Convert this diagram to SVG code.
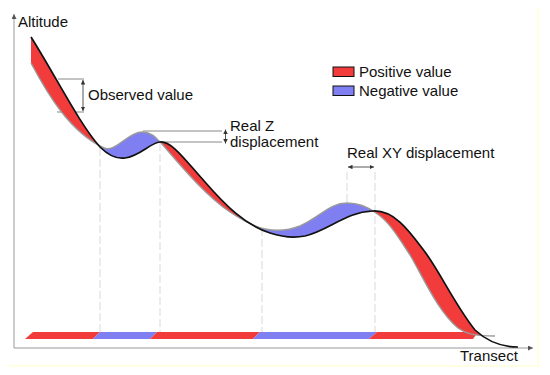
<svg xmlns="http://www.w3.org/2000/svg" width="550" height="375" viewBox="0 0 550 375">
  <style>
    text { font-family: "Liberation Sans", Arial, sans-serif; font-size: 15px; fill: #111; }
    .axis { stroke: #999; stroke-width: 1; fill: none; }
    .dash { stroke: #cfcfcf; stroke-width: 0.8; stroke-dasharray: 8 3; fill: none; }
    .guide { stroke: #888; stroke-width: 1; fill: none; }
    .dim { stroke: #444; stroke-width: 0.9; fill: none; }
    .red { fill: #f23c3c; }
    .blue { fill: #7f7ff2; }
  </style>
  <defs>
    <marker id="ah" viewBox="0 0 6 6" refX="6" refY="3" markerWidth="5" markerHeight="5" orient="auto-start-reverse">
      <path d="M0,0 L6,3 L0,6 Z" fill="#333"/>
    </marker>
    <marker id="axh" viewBox="0 0 6 6" refX="6" refY="3" markerWidth="5" markerHeight="5" orient="auto">
      <path d="M0,0 L6,3 L0,6 Z" fill="#555"/>
    </marker>
    <clipPath id="cUnderBlack">
      <path d="M31,37 C55,75 80,125 100,147 C110,157 118,159 125,158 C140,156 150,143 160,142 C172,141 185,160 205,182 C225,205 245,225 270,233 C285,238 295,238 305,236 C330,230 345,212 373,211 C395,210 410,232 425,252 C440,272 455,305 475,330 C490,344 505,347 518,347 L600,347 L600,400 L0,400 L0,37 Z"/>
    </clipPath>
    <clipPath id="cOverBlack">
      <path d="M31,37 C55,75 80,125 100,147 C110,157 118,159 125,158 C140,156 150,143 160,142 C172,141 185,160 205,182 C225,205 245,225 270,233 C285,238 295,238 305,236 C330,230 345,212 373,211 C395,210 410,232 425,252 C440,272 455,305 475,330 C490,344 505,347 518,347 L600,347 L600,-10 L0,-10 L0,37 Z"/>
    </clipPath>
    <clipPath id="cUnderGray">
      <path d="M31,63 C48,95 70,132 104,148 C115,153 128,132 142,132 C152,132 156,138 162,144 C180,165 205,195 230,212 C245,222 255,227 265,229 C280,232 290,230 300,226 C320,217 330,203 347,203 C360,203 368,207 376,213 C390,222 400,240 410,255 C422,275 438,312 458,328 C468,335 478,336 495,336 L600,336 L600,400 L0,400 L0,63 Z"/>
    </clipPath>
    <clipPath id="cOverGray">
      <path d="M31,63 C48,95 70,132 104,148 C115,153 128,132 142,132 C152,132 156,138 162,144 C180,165 205,195 230,212 C245,222 255,227 265,229 C280,232 290,230 300,226 C320,217 330,203 347,203 C360,203 368,207 376,213 C390,222 400,240 410,255 C422,275 438,312 458,328 C468,335 478,336 495,336 L600,336 L600,-10 L0,-10 L0,63 Z"/>
    </clipPath>
  </defs>

  <rect x="0" y="0" width="550" height="375" fill="#ffffff"/>

  <!-- faint frame -->
  <g id="frame" stroke="#ffffc4" stroke-width="1.2" fill="none">
    <line x1="538" y1="8" x2="538" y2="366"/>
    <line x1="7" y1="366" x2="538" y2="366"/>
  </g>

  <!-- axes -->
  <g id="axes">
    <line class="axis" x1="14" y1="348" x2="14" y2="14" marker-end="url(#axh)"/>
    <line class="axis" x1="14" y1="348" x2="533" y2="348" marker-end="url(#axh)"/>
    <text x="18" y="27">Altitude</text>
    <text x="460" y="361">Transect</text>
  </g>

  <!-- band along transect -->
  <g id="band">
    <polygon class="red" points="33,332 100,332 93,339 25,339"/>
    <polygon class="blue" points="100,332 157,332 150,339 93,339"/>
    <polygon class="red" points="157,332 260,332 253,339 150,339"/>
    <polygon class="blue" points="260,332 377,332 369,339 253,339"/>
    <polygon class="red" points="377,332 478,332 473,339 369,339"/>
  </g>

  <!-- connectors / guide lines -->
  <g id="connectors">
    <line class="dash" x1="100" y1="148" x2="100" y2="332"/>
    <line class="dash" x1="160" y1="143" x2="160" y2="332"/>
    <line class="dash" x1="262" y1="228" x2="262" y2="332"/>
    <line class="dash" x1="375" y1="172" x2="375" y2="332"/>
    <line class="dash" x1="347" y1="172" x2="347" y2="203"/>
    <line class="guide" x1="143" y1="131" x2="222" y2="131"/>
    <line class="guide" x1="160" y1="142" x2="222" y2="142"/>
    <line class="guide" x1="58" y1="79" x2="84" y2="79"/>
    <line class="guide" x1="57" y1="112" x2="84" y2="112"/>
    <line class="dim" x1="83" y1="80" x2="83" y2="111" marker-start="url(#ah)" marker-end="url(#ah)"/>
    <line class="dim" x1="225.5" y1="129.5" x2="225.5" y2="143.5" marker-start="url(#ah)" marker-end="url(#ah)"/>
    <line class="dim" x1="348" y1="167" x2="374" y2="167" marker-start="url(#ah)" marker-end="url(#ah)"/>
  </g>

  <!-- filled displacement areas -->
  <g id="positive">
    <g clip-path="url(#cOverGray)">
      <rect class="red" x="31" y="0" width="451" height="375" clip-path="url(#cUnderBlack)"/>
    </g>
  </g>
  <g id="negative">
    <g clip-path="url(#cUnderGray)">
      <rect class="blue" x="100" y="0" width="276" height="375" clip-path="url(#cOverBlack)"/>
    </g>
  </g>

  <!-- terrain profiles -->
  <g id="profile-before">
    <path d="M31,63 C48,95 70,132 104,148 C115,153 128,132 142,132 C152,132 156,138 162,144 C180,165 205,195 230,212 C245,222 255,227 265,229 C280,232 290,230 300,226 C320,217 330,203 347,203 C360,203 368,207 376,213 C390,222 400,240 410,255 C422,275 438,312 458,328 C468,335 478,336 495,336" fill="none" stroke="#9a9a9a" stroke-width="1.4"/>
  </g>
  <g id="profile-after">
    <path d="M31,37 C55,75 80,125 100,147 C110,157 118,159 125,158 C140,156 150,143 160,142 C172,141 185,160 205,182 C225,205 245,225 270,233 C285,238 295,238 305,236 C330,230 345,212 373,211 C395,210 410,232 425,252 C440,272 455,305 475,330 C490,344 505,347 518,347" fill="none" stroke="#111" stroke-width="1.7"/>
  </g>

  <!-- labels -->
  <g id="label-observed">
    <text x="88" y="100">Observed value</text>
  </g>
  <g id="label-z">
    <text x="230" y="131">Real Z</text>
    <text x="230" y="147">displacement</text>
  </g>
  <g id="label-xy">
    <text x="347" y="158">Real XY displacement</text>
  </g>

  <!-- legend -->
  <g id="legend">
    <rect class="red" x="333" y="67" width="21" height="9.5" stroke="#111" stroke-width="1"/>
    <text x="359" y="77">Positive value</text>
    <rect class="blue" x="333" y="86" width="21" height="9.5" stroke="#111" stroke-width="1"/>
    <text x="359" y="96">Negative value</text>
  </g>
</svg>
